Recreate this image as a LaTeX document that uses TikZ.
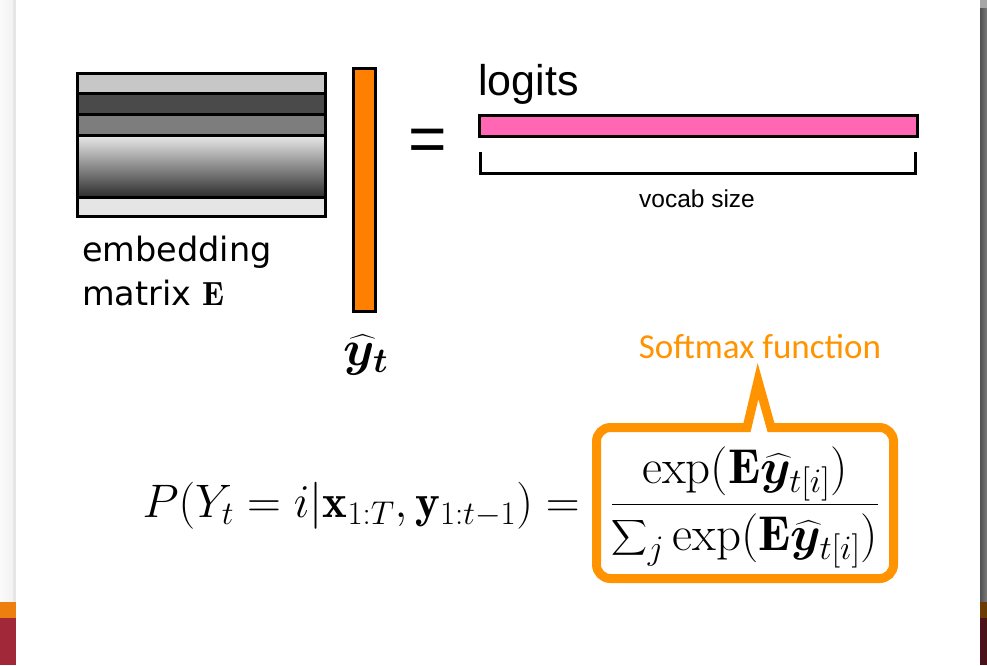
\RequirePackage{fix-cm}
\documentclass[tikz,border=0pt]{standalone}
\usepackage{amsmath,bm}
\usepackage{fontspec}
\newfontfamily\dejavu{DejaVu Sans}
\newfontfamily\arial{Liberation Sans}
\newfontfamily\calibri{Carlito}
\definecolor{smOrange}{HTML}{FF9300}
\definecolor{vecOrange}{HTML}{FF8000}
\definecolor{logitPink}{HTML}{FF66B3}
\definecolor{edgeOrange}{HTML}{EE7F0E}
\definecolor{edgeRed}{HTML}{A02838}
\definecolor{edgeBrown}{HTML}{6B3A05}
\definecolor{edgeDark}{HTML}{4A1218}

\begin{document}
\begin{tikzpicture}[x=1pt, y=-1pt,
    cell/.style={draw=black, line width=3pt},
    bar/.style={draw=black, line width=3pt, inner sep=0pt},
    sans/.style={font=\arial\fontsize{#1}{#1}\selectfont, inner sep=0pt},
    eqn/.style={font=\fontsize{#1}{#1}\selectfont, inner sep=0pt, anchor=base},
    callout/.style={draw=smOrange, line width=9pt, fill=white}
]
    \useasboundingbox (0,0) rectangle (987,665);
    \fill[white] (0,0) rectangle (987,665);

    % slide edges
    \fill[left color=black!2, right color=black!5] (0,0) rectangle (13,602);
    \fill[black!10] (13,0) rectangle (16,602);
    \fill[edgeOrange] (0,602) rectangle (16,618);
    \fill[edgeRed] (0,618) rectangle (16,665);
    \fill[left color=black!68, right color=black!52] (980,0) rectangle (987,602);
    \fill[black!35] (980,0) rectangle (987,8);
    \fill[edgeBrown] (980,602) rectangle (987,618);
    \fill[edgeDark] (980,618) rectangle (987,665);

    % embedding matrix
    \draw[cell, fill=black!22] (77.5,73.5) rectangle (325.5,93);
    \draw[cell, fill=black!71] (77.5,93) rectangle (325.5,114);
    \draw[cell, fill=black!51] (77.5,114) rectangle (325.5,135);
    \draw[cell, top color=black!8, bottom color=black!82] (77.5,135) rectangle (325.5,197);
    \draw[cell, fill=black!10] (77.5,197) rectangle (325.5,216.5);
    \node[font=\dejavu\fontsize{33.5}{40}\selectfont, inner sep=0pt, anchor=base west] (emb1) at (82,261) {embedding};
    \node[font=\dejavu\fontsize{33.5}{40}\selectfont, inner sep=0pt, anchor=base west] (emb2) at (82,305) {matrix $\mathbf{E}$};

    % output vector
    \node[bar, fill=vecOrange, minimum width=22pt, minimum height=243pt] (yhat) at (364.5,190) {};
    \node[font=\fontsize{50}{56}\selectfont, inner sep=0pt] (yhatlbl) at (366,355) {$\widehat{\bm{y}}_{\bm{t}}$};

    \node[sans=66] (eq) at (428,145.5) {=};

    % logits
    \node[bar, fill=logitPink, minimum width=438pt, minimum height=21pt] (logits) at (698.5,126) {};
    \node[sans=43, anchor=base west] (logitslbl) at (478,95) {logits};
    \draw[line width=3pt] (480,152) -- (480,173) -- (915,173) -- (915,152);
    \node[sans=24.5, anchor=base] (vocab) at (697,207) {vocab size};

    % softmax
    \draw[callout] (747,427.5) -- (758,381) -- (771,427.5) [rounded corners=14pt] -- (893.5,427.5)
        -- (893.5,578.5) -- (596.5,578.5) -- (596.5,427.5) [sharp corners] -- cycle;
    \node[font=\calibri\fontsize{35}{42}\selectfont, text=smOrange, inner sep=0pt, anchor=base] (smlbl) at (760,358) {Softmax function};
    \node[eqn=49] (frac) at (745,517) {$\dfrac{\exp(\mathbf{E}\widehat{\bm{y}}_{t[i]})}{{\displaystyle\sum\nolimits_j}\exp(\mathbf{E}\widehat{\bm{y}}_{t[i]})}$};
    \node[eqn=47, anchor=base east] (lhs) at (580,517) {$P(Y_t = i|\mathbf{x}_{1:T},\mathbf{y}_{1:t-1}) =$};
\end{tikzpicture}
\end{document}
